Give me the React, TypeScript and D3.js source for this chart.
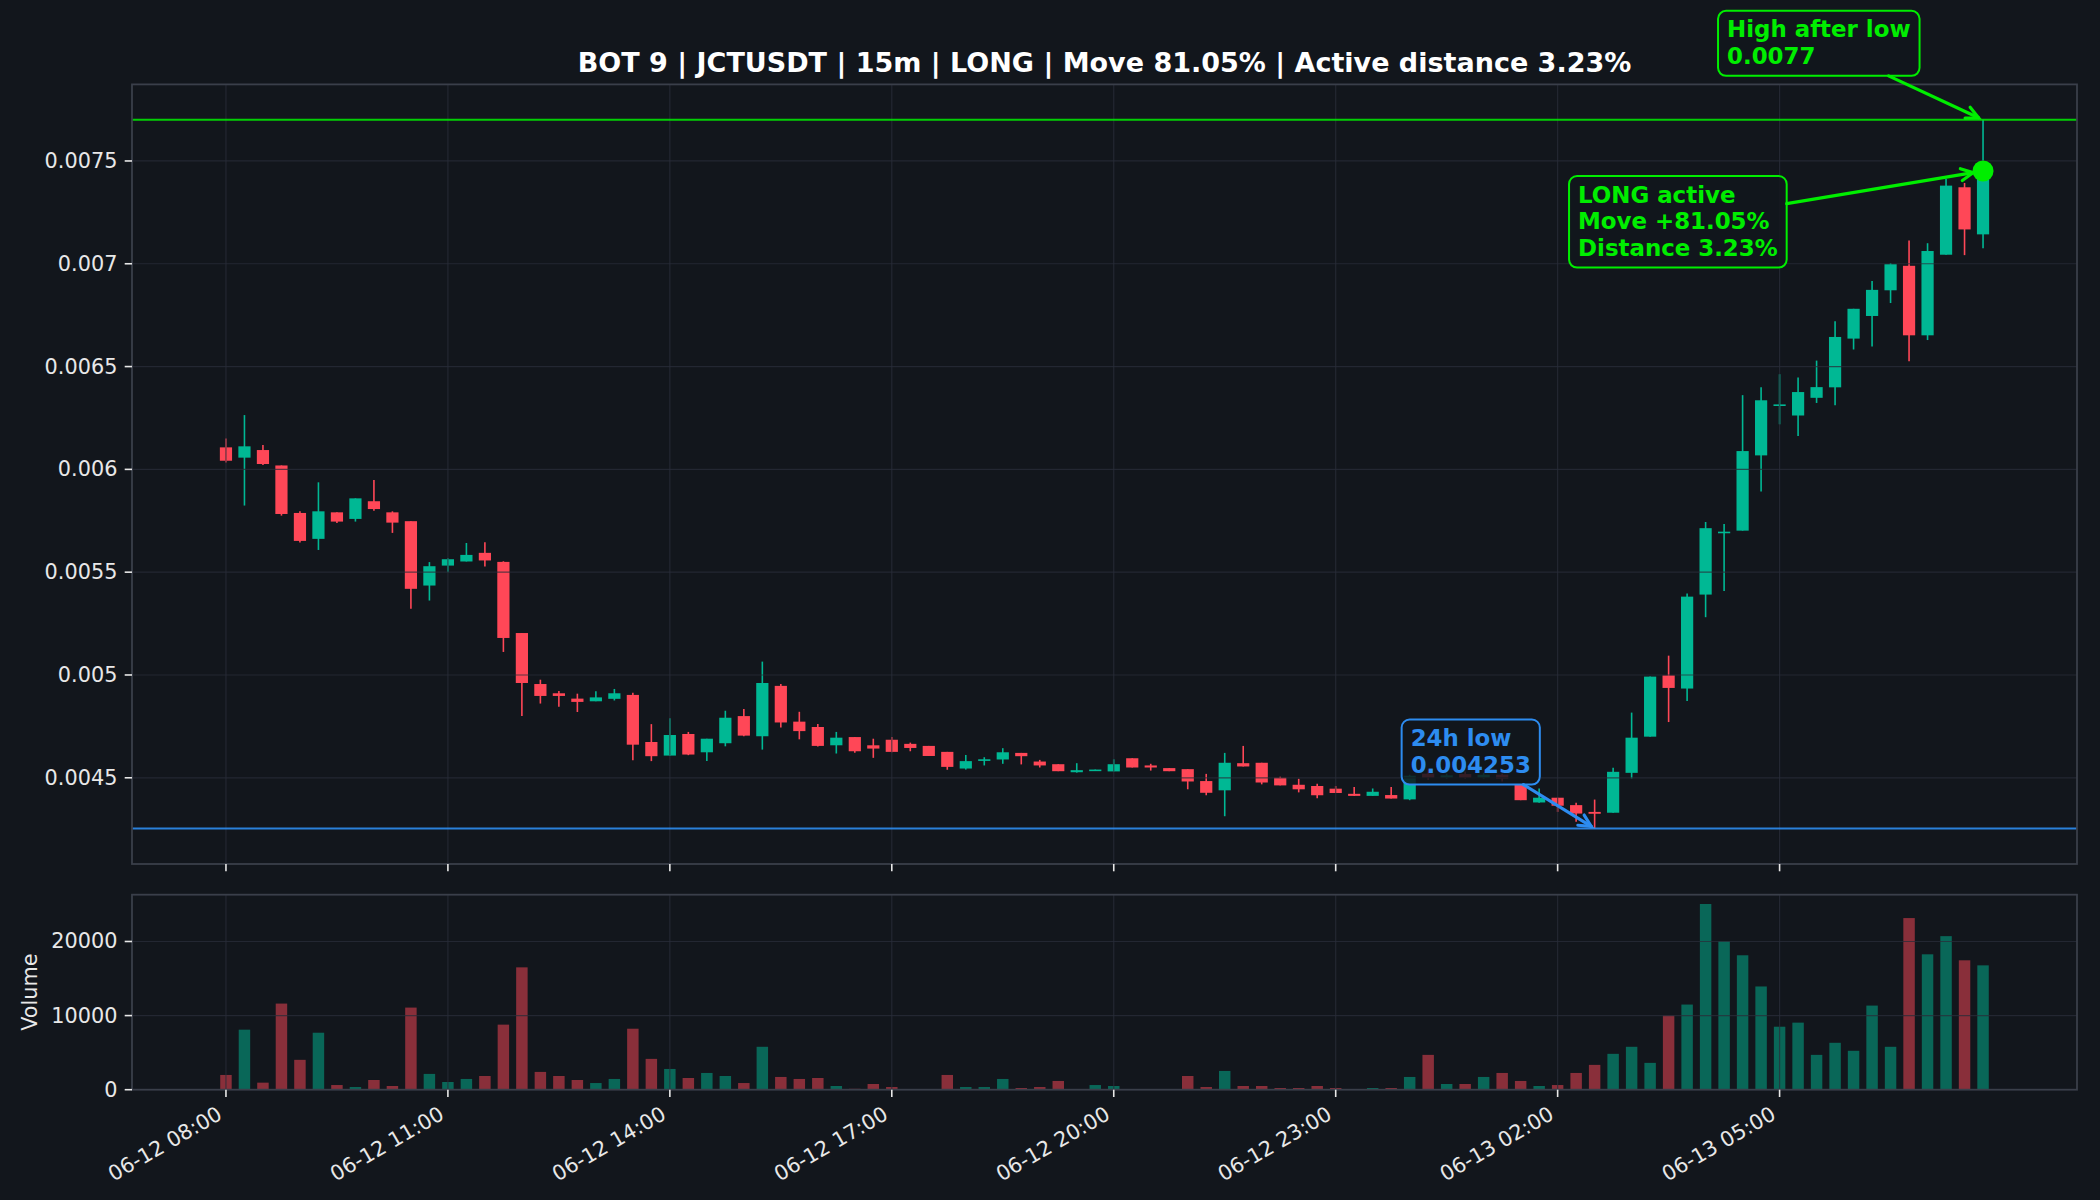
import React, { useEffect, useRef } from 'react';
import * as d3 from 'd3';

// 15m candles, 06-12 08:00 -> 06-13 07:45
const opens = [
  0.006107, 0.006057, 0.006094, 0.006019, 0.005788, 0.005662, 0.005791, 0.005759, 0.005845, 0.005791,
  0.005748, 0.005435, 0.005532, 0.005552, 0.005594, 0.00555, 0.005204, 0.004956, 0.004911, 0.004885,
  0.004872, 0.004884, 0.004903, 0.004674, 0.004608, 0.004713, 0.004624, 0.004668, 0.0048, 0.004702,
  0.004947, 0.004773, 0.004747, 0.004658, 0.004698, 0.004658, 0.004685, 0.004665, 0.004655, 0.004626,
  0.004545, 0.004582, 0.004589, 0.004621, 0.004579, 0.004566, 0.004527, 0.004535, 0.004531, 0.004595,
  0.00456, 0.004547, 0.004542, 0.004484, 0.004439, 0.004571, 0.004573, 0.0045, 0.004466, 0.00446,
  0.004447, 0.004422, 0.004412, 0.004416, 0.004395, 0.00452, 0.0045, 0.004518, 0.0045, 0.004515,
  0.004465, 0.00438, 0.004403, 0.004367, 0.004334, 0.00433, 0.004524, 0.0047, 0.004998, 0.004934,
  0.005391, 0.00569, 0.005702, 0.006068, 0.00631, 0.006262, 0.006348, 0.006399, 0.006636, 0.006746,
  0.006871, 0.00699, 0.006652, 0.007044, 0.007372, 0.007143,
];
const highs = [
  0.00615, 0.006264, 0.006118, 0.006019, 0.005796, 0.005937, 0.005791, 0.005859, 0.005948, 0.005796,
  0.005748, 0.005549, 0.005568, 0.005642, 0.005646, 0.005553, 0.005204, 0.004977, 0.004922, 0.004909,
  0.004921, 0.004932, 0.004913, 0.004761, 0.00479, 0.004723, 0.00469, 0.004826, 0.004835, 0.005065,
  0.004956, 0.004821, 0.004761, 0.004723, 0.004698, 0.00469, 0.004698, 0.004671, 0.004655, 0.004626,
  0.004611, 0.0046, 0.004644, 0.004621, 0.004587, 0.004566, 0.004571, 0.00454, 0.00459, 0.004595,
  0.004568, 0.004547, 0.004542, 0.004519, 0.004621, 0.004655, 0.004573, 0.004505, 0.004495, 0.004471,
  0.00446, 0.004455, 0.004448, 0.004455, 0.004515, 0.00454, 0.00452, 0.00453, 0.004525, 0.00452,
  0.00447, 0.004448, 0.004403, 0.004378, 0.004394, 0.004549, 0.004817, 0.004992, 0.005094, 0.005396,
  0.005744, 0.005734, 0.006361, 0.0064, 0.006463, 0.006447, 0.006529, 0.006721, 0.006781, 0.006916,
  0.007003, 0.007113, 0.0071, 0.007414, 0.007393, 0.0077,
];
const lows = [
  0.006034, 0.005824, 0.006021, 0.005775, 0.005644, 0.005608, 0.005739, 0.005746, 0.005799, 0.005691,
  0.005322, 0.005362, 0.0055, 0.005552, 0.005528, 0.005112, 0.0048, 0.004861, 0.004845, 0.00482,
  0.004872, 0.004876, 0.004585, 0.004581, 0.004606, 0.00461, 0.004581, 0.004653, 0.004702, 0.004637,
  0.004745, 0.004687, 0.004652, 0.004618, 0.004622, 0.004597, 0.004624, 0.004629, 0.004606, 0.004539,
  0.00454, 0.00456, 0.004568, 0.004565, 0.00455, 0.004532, 0.004525, 0.004535, 0.004531, 0.00455,
  0.004535, 0.004532, 0.004444, 0.004415, 0.004313, 0.004555, 0.004468, 0.004463, 0.004429, 0.0044,
  0.004426, 0.004411, 0.004412, 0.004399, 0.004391, 0.00449, 0.004495, 0.004495, 0.004495, 0.004482,
  0.004391, 0.004378, 0.004334, 0.004286, 0.004253, 0.00433, 0.004497, 0.0047, 0.004771, 0.004874,
  0.005281, 0.005409, 0.005702, 0.005892, 0.006219, 0.006162, 0.006323, 0.006312, 0.006583, 0.006598,
  0.006809, 0.006526, 0.006629, 0.007044, 0.007042, 0.007075,
];
const closes = [
  0.006042, 0.006112, 0.006026, 0.005783, 0.005652, 0.005796, 0.005746, 0.005859, 0.005807, 0.005741,
  0.005419, 0.005529, 0.005563, 0.005584, 0.005557, 0.00518, 0.004961, 0.004898, 0.004898, 0.004869,
  0.004891, 0.004911, 0.004661, 0.004605, 0.004708, 0.004613, 0.00469, 0.004792, 0.004705, 0.004961,
  0.004769, 0.004727, 0.004655, 0.004695, 0.004629, 0.004642, 0.004626, 0.004645, 0.004606, 0.004553,
  0.004581, 0.00459, 0.004624, 0.004605, 0.00456, 0.004532, 0.004537, 0.00454, 0.004566, 0.00455,
  0.00455, 0.004532, 0.004482, 0.004427, 0.004573, 0.004555, 0.004477, 0.004463, 0.004444, 0.004415,
  0.004426, 0.004412, 0.004432, 0.004399, 0.00451, 0.0045, 0.004512, 0.0045, 0.004515, 0.004495,
  0.004391, 0.004403, 0.004364, 0.004326, 0.004325, 0.004529, 0.004695, 0.004992, 0.004937, 0.005381,
  0.005714, 0.005697, 0.006089, 0.006336, 0.006316, 0.006376, 0.0064, 0.006644, 0.006781, 0.006873,
  0.006998, 0.006652, 0.007062, 0.00738, 0.007167, 0.007451,
];
const volumes = [
  1990, 8100, 950, 11620, 4030, 7690, 630, 360, 1310, 500,
  11080, 2130, 1040, 1450, 1850, 8780, 16510, 2400, 1850, 1310,
  900, 1450, 8230, 4160, 2800, 1580, 2260, 1850, 900, 5790,
  1720, 1450, 1580, 500, 120, 770, 360, 80, 90, 1990,
  360, 360, 1450, 230, 360, 1180, 60, 630, 500, 40,
  50, 40, 1850, 360, 2530, 500, 500, 230, 230, 500,
  230, 50, 230, 230, 1720, 4700, 770, 770, 1720, 2260,
  1180, 500, 630, 2260, 3350, 4840, 5790, 3620, 10000, 11490,
  25060, 20040, 18140, 13930, 8500, 9050, 4700, 6330, 5250, 11350,
  5790, 23160, 18270, 20720, 17460, 16780,
];

const START = new Date(2024, 5, 12, 8, 0);
const STEP_MIN = 15;
const TITLE = 'BOT 9 | JCTUSDT | 15m | LONG | Move 81.05% | Active distance 3.23%';
const LOW_24H = 0.004253;
const HIGH_AFTER_LOW = 0.0077;
const LOW_IDX = 74;
const PRICE_TICKS = [0.0045, 0.005, 0.0055, 0.006, 0.0065, 0.007, 0.0075];
const VOLUME_TICKS = [0, 10000, 20000];
const TIME_TICK_IDX = [0, 12, 24, 36, 48, 60, 72, 84];
const LOW_LABEL = ['24h low', '0.004253'];
const HIGH_LABEL = ['High after low', '0.0077'];
const ACTIVE_LABEL = ['LONG active', 'Move +81.05%', 'Distance 3.23%'];

const BG = '#12161c';
const UP = '#00b894';
const DOWN = '#ff4757';
const GREEN = '#00ee00';
const BLUE = '#2d8cf0';
const GRID = '#2a2e39';
const SPINE = '#3a3f4a';
const TEXT = '#e8e8e8';
const FONT = 'DejaVu Sans, sans-serif';

const App = () => {
  const ref = useRef<SVGSVGElement>(null);

  useEffect(() => {
    document.body.style.margin = '0';
    document.body.style.background = BG;
    draw();
  }, []);

  const draw = () => {
    const W = 2100, H = 1200;
    const left = 132, right = 2077;
    const pTop = 84.4, pBot = 864;
    const vTop = 894.7, vBot = 1089.7;
    const n = closes.length;

    const svg = d3.select(ref.current);
    svg.selectAll('*').remove();
    svg.append('rect').attr('width', W).attr('height', H).attr('fill', BG);

    const tAt = (i: number) => new Date(START.getTime() + i * STEP_MIN * 60000);
    const barW = 0.6;
    const span = n - 1 + barW;
    const pad = span * 0.05;
    const x = d3.scaleTime()
      .domain([tAt(-barW / 2 - pad), tAt(n - 1 + barW / 2 + pad)])
      .range([left, right]);
    const step = x(tAt(1)) - x(tAt(0));

    const lo = d3.min(lows) as number;
    const hi = d3.max(highs) as number;
    const yPad = (hi - lo) * 0.05;
    const y = d3.scaleLinear().domain([lo - yPad, hi + yPad]).range([pBot, pTop]);
    const vMax = d3.max(volumes) as number;
    const yv = d3.scaleLinear().domain([0, vMax * 1.05]).range([vBot, vTop]);

    const idx = d3.range(n);
    const isUp = (i: number) => closes[i] >= opens[i];

    // volume bars
    const volW = step * 0.62;
    svg.append('g').selectAll('rect').data(idx).enter().append('rect')
      .attr('x', i => x(tAt(i)) - volW / 2)
      .attr('width', volW)
      .attr('y', i => yv(volumes[i]))
      .attr('height', i => vBot - yv(volumes[i]))
      .attr('fill', i => (isUp(i) ? UP : DOWN))
      .attr('fill-opacity', 0.5);

    // candles
    const bodyW = step * 0.66;
    const cg = svg.append('g');
    cg.selectAll('line').data(idx).enter().append('line')
      .attr('x1', i => x(tAt(i))).attr('x2', i => x(tAt(i)))
      .attr('y1', i => y(highs[i])).attr('y2', i => y(lows[i]))
      .attr('stroke', i => (isUp(i) ? UP : DOWN))
      .attr('stroke-width', 1.6);
    cg.selectAll('rect').data(idx).enter().append('rect')
      .attr('x', i => x(tAt(i)) - bodyW / 2)
      .attr('width', bodyW)
      .attr('y', i => y(Math.max(opens[i], closes[i])))
      .attr('height', i => Math.max(1.6, Math.abs(y(opens[i]) - y(closes[i]))))
      .attr('fill', i => (isUp(i) ? UP : DOWN));

    // grid (drawn over the candles, faint)
    const grid = svg.append('g').attr('stroke', GRID).attr('stroke-opacity', 0.75).attr('stroke-width', 1.2);
    PRICE_TICKS.forEach(v => {
      grid.append('line').attr('x1', left).attr('x2', right).attr('y1', y(v)).attr('y2', y(v));
    });
    VOLUME_TICKS.slice(1).forEach(v => {
      grid.append('line').attr('x1', left).attr('x2', right).attr('y1', yv(v)).attr('y2', yv(v));
    });
    TIME_TICK_IDX.forEach(i => {
      const px = x(tAt(i));
      grid.append('line').attr('x1', px).attr('x2', px).attr('y1', pTop).attr('y2', pBot);
      grid.append('line').attr('x1', px).attr('x2', px).attr('y1', vTop).attr('y2', vBot);
    });

    // reference lines
    svg.append('line').attr('x1', left).attr('x2', right)
      .attr('y1', y(HIGH_AFTER_LOW)).attr('y2', y(HIGH_AFTER_LOW))
      .attr('stroke', GREEN).attr('stroke-width', 2).attr('stroke-opacity', 0.85);
    svg.append('line').attr('x1', left).attr('x2', right)
      .attr('y1', y(LOW_24H)).attr('y2', y(LOW_24H))
      .attr('stroke', BLUE).attr('stroke-width', 2).attr('stroke-opacity', 0.9);

    // spines
    [[pTop, pBot], [vTop, vBot]].forEach(([t, b]) => {
      svg.append('rect').attr('x', left).attr('y', t).attr('width', right - left).attr('height', b - t)
        .attr('fill', 'none').attr('stroke', SPINE).attr('stroke-width', 1.8);
    });

    // axes
    const tickLen = 7.3;
    const ax = svg.append('g').attr('font-family', FONT).attr('font-size', 20.8).attr('fill', TEXT);
    PRICE_TICKS.forEach(v => {
      ax.append('line').attr('x1', left - tickLen).attr('x2', left).attr('y1', y(v)).attr('y2', y(v))
        .attr('stroke', TEXT).attr('stroke-width', 1.6);
      ax.append('text').attr('x', left - tickLen - 7.3).attr('y', y(v))
        .attr('text-anchor', 'end').attr('dominant-baseline', 'central')
        .text(String(+v.toFixed(4)));
    });
    VOLUME_TICKS.forEach(v => {
      ax.append('line').attr('x1', left - tickLen).attr('x2', left).attr('y1', yv(v)).attr('y2', yv(v))
        .attr('stroke', TEXT).attr('stroke-width', 1.6);
      ax.append('text').attr('x', left - tickLen - 7.3).attr('y', yv(v))
        .attr('text-anchor', 'end').attr('dominant-baseline', 'central')
        .text(String(v));
    });
    const fmt = d3.timeFormat('%m-%d %H:%M');
    TIME_TICK_IDX.forEach(i => {
      const px = x(tAt(i));
      ax.append('line').attr('x1', px).attr('x2', px).attr('y1', pBot).attr('y2', pBot + tickLen)
        .attr('stroke', TEXT).attr('stroke-width', 1.6);
      ax.append('line').attr('x1', px).attr('x2', px).attr('y1', vBot).attr('y2', vBot + tickLen)
        .attr('stroke', TEXT).attr('stroke-width', 1.6);
      ax.append('text')
        .attr('transform', `translate(${px - 10},${vBot + tickLen + 8}) rotate(-30)`)
        .attr('text-anchor', 'end').attr('dominant-baseline', 'hanging')
        .text(fmt(tAt(i)));
    });
    ax.append('text')
      .attr('transform', `translate(30,${(vTop + vBot) / 2}) rotate(-90)`)
      .attr('text-anchor', 'middle').attr('dominant-baseline', 'central')
      .text('Volume');

    // title
    svg.append('text').attr('x', (left + right) / 2).attr('y', pTop - 12.5)
      .attr('text-anchor', 'middle').attr('font-family', FONT).attr('font-weight', 'bold')
      .attr('font-size', 27).attr('fill', '#ffffff')
      .text(TITLE);

    // current price dot
    const cx = x(tAt(n - 1));
    svg.append('circle').attr('cx', cx).attr('cy', y(closes[n - 1])).attr('r', 10.5).attr('fill', GREEN);

    // annotations: box placed by pixel offset from its target, arrow from box centre clipped to box edge
    const annotate = (lines: string[], color: string, tx: number, ty: number, dx: number, dy: number, shrink: number) => {
      const g = svg.append('g');
      const fs = 22.9, lh = 26.5, padX = 9;
      const box = g.append('rect').attr('rx', 8).attr('ry', 8)
        .attr('fill', BG).attr('fill-opacity', 0.85).attr('stroke', color).attr('stroke-width', 2);
      const bx = tx + dx, by = ty + dy;
      let maxW = 0;
      lines.forEach((s, k) => {
        const t = g.append('text').attr('x', bx + padX).attr('y', by + 18.5 + k * lh)
          .attr('dominant-baseline', 'central').attr('font-family', FONT).attr('font-weight', 'bold')
          .attr('font-size', fs).attr('fill', color).text(s);
        const node = t.node() as SVGTextElement;
        maxW = Math.max(maxW, node.getComputedTextLength());
      });
      const bw = maxW + padX * 2, bh = 12 + lh * lines.length;
      box.attr('x', bx).attr('y', by).attr('width', bw).attr('height', bh);
      // arrow
      const ccx = bx + bw / 2, ccy = by + bh / 2;
      const ddx = tx - ccx, ddy = ty - ccy;
      const tX = ddx !== 0 ? (bw / 2) / Math.abs(ddx) : Infinity;
      const tY = ddy !== 0 ? (bh / 2) / Math.abs(ddy) : Infinity;
      const t0 = Math.min(tX, tY);
      const sx = ccx + ddx * t0, sy = ccy + ddy * t0;
      const len = Math.hypot(tx - sx, ty - sy);
      const ux = (tx - sx) / len, uy = (ty - sy) / len;
      const ex = tx - ux * shrink, ey = ty - uy * shrink;
      const hl = 12, hw = 6;
      g.append('line').attr('x1', sx).attr('y1', sy).attr('x2', ex).attr('y2', ey)
        .attr('stroke', color).attr('stroke-width', 3.2).attr('stroke-linecap', 'round');
      g.append('path')
        .attr('d', `M${ex - ux * hl - uy * hw},${ey - uy * hl + ux * hw} L${ex},${ey} L${ex - ux * hl + uy * hw},${ey - uy * hl - ux * hw}`)
        .attr('fill', 'none').attr('stroke', color).attr('stroke-width', 3.2)
        .attr('stroke-linejoin', 'miter').attr('stroke-linecap', 'round');
      g.raise();
    };

    annotate(LOW_LABEL, BLUE, x(tAt(LOW_IDX)), y(LOW_24H), -193, -109, 4);
    annotate(HIGH_LABEL, GREEN, cx, y(HIGH_AFTER_LOW), -265, -109, 5);
    annotate(ACTIVE_LABEL, GREEN, cx, y(closes[n - 1]), -414, 5, 10);
  };

  return (
    <div style={{ width: 2100, height: 1200 }}>
      <svg ref={ref} width={2100} height={1200} style={{ display: 'block' }}></svg>
    </div>
  );
};

export default App;
